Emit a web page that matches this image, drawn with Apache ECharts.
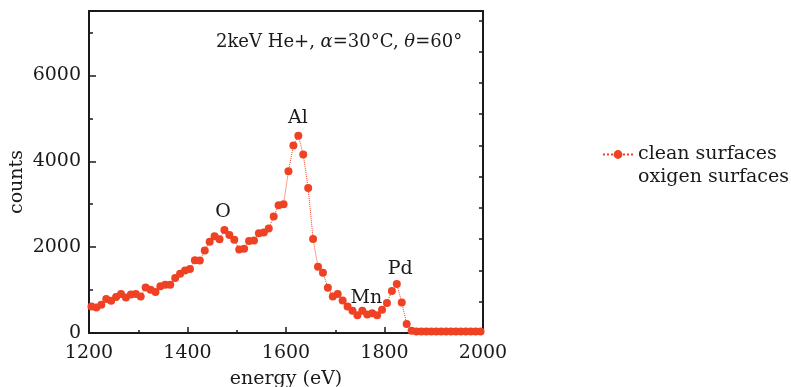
<!DOCTYPE html>
<html><head><meta charset="utf-8">
<script src="https://cdn.jsdelivr.net/npm/echarts@6/dist/echarts.min.js"></script>
<style>html,body{margin:0;padding:0;background:#fff}#c{width:791px;height:387px}</style>
</head><body><div id="c"></div>
<script>
const energies = [1205,1215,1225,1235,1245,1255,1265,1275,1285,1295,
  1305,1315,1325,1335,1345,1355,1365,1375,1385,1395,
  1405,1415,1425,1435,1445,1455,1465,1475,1485,1495,
  1505,1515,1525,1535,1545,1555,1565,1575,1585,1595,
  1605,1615,1625,1635,1645,1655,1665,1675,1685,1695,
  1705,1715,1725,1735,1745,1755,1765,1775,1785,1795,
  1805,1815,1825,1835,1845,1855,1865,1875,1885,1895,
  1905,1915,1925,1935,1945,1955,1965,1975,1985,1995];
const cleanCounts = [617,593,657,790,750,837,908,828,898,908,
  851,1062,1008,954,1086,1126,1126,1283,1380,1454,
  1493,1695,1688,1923,2127,2251,2181,2399,2282,2174,
  1946,1963,2141,2157,2321,2338,2432,2715,2975,3001,
  3768,4368,4596,4157,3376,2188,1545,1405,1055,851,
  908,757,617,516,415,516,430,462,415,539,
  696,980,1142,711,211,54,35,35,35,35,
  35,35,35,35,35,35,35,35,35,35];
const oxigenCounts = [];
const yTicks = [0,2000,4000,6000];
const peakLabels = ['Al','O','Mn','Pd'];
const peakEnergies = [1624,1472,1763,1832];
const peakCounts = [5010,2810,810,1490];

const FONT = 'DejaVu Serif';
const INK = '#1a1a1a';
const RED = '#ef4123';
const frameLine = {show:true, onZero:false, lineStyle:{color:INK, width:2}};
const tickStyle = {color:INK, width:1.5};

const chart = echarts.init(document.getElementById('c'));
chart.setOption({
  animation:false,
  grid:{left:89, right:308, top:11, bottom:54, containLabel:false, outerBoundsMode:'none'},
  title:{
    text:'2keV He+, {i|α}=30°C, {i|θ}=60°', left:216, top:33, padding:0,
    textStyle:{fontFamily:FONT, fontSize:18, fontWeight:'normal', color:INK,
      rich:{i:{fontFamily:FONT, fontStyle:'italic', fontSize:18, color:INK}}}
  },
  legend:{
    orient:'vertical', left:602, top:145, padding:0, itemGap:4,
    itemWidth:30, itemHeight:11,
    textStyle:{fontFamily:FONT, fontSize:19, color:INK},
    data:['clean surfaces','oxigen surfaces']
  },
  xAxis:[
    {type:'value', min:1200, max:2000, interval:200, position:'bottom',
     axisLine:frameLine,
     axisTick:{show:true, inside:true, length:6, lineStyle:tickStyle},
     minorTick:{show:true, splitNumber:2, length:3, lineStyle:tickStyle},
     splitLine:{show:false}, minorSplitLine:{show:false},
     axisLabel:{fontFamily:FONT, fontSize:19, color:INK, margin:11, formatter:v => String(v)},
     name:'energy (eV)', nameLocation:'middle', nameGap:37,
     nameTextStyle:{fontFamily:FONT, fontSize:19, color:INK}},
    {type:'value', min:1200, max:2000, position:'top',
     axisLine:frameLine, axisTick:{show:false}, axisLabel:{show:false}, splitLine:{show:false}}
  ],
  yAxis:[
    {type:'value', min:0, max:7500, interval:1000, position:'left',
     axisLine:frameLine,
     axisTick:{show:true, inside:true, length:4, lineStyle:tickStyle},
     splitLine:{show:false},
     axisLabel:{fontFamily:FONT, fontSize:19, color:INK, margin:8,
       formatter:v => yTicks.includes(v) ? String(v) : ''},
     name:'counts', nameLocation:'middle', nameGap:62,
     nameTextStyle:{fontFamily:FONT, fontSize:19, color:INK, padding:[0,20,0,0]}},
    {type:'value', min:0, max:7500, interval:2000, position:'left',
     axisLine:{show:false},
     axisTick:{show:true, inside:true, length:7, lineStyle:tickStyle},
     axisLabel:{show:false}, splitLine:{show:false}},
    {type:'value', min:0, max:10.3, interval:1, position:'right',
     axisLine:frameLine,
     axisTick:{show:true, inside:true, length:4, lineStyle:tickStyle},
     axisLabel:{show:false}, splitLine:{show:false}}
  ],
  series:[
    {name:'clean surfaces', type:'line',
     data:energies.map((e,i)=>[e, cleanCounts[i]]),
     symbol:'circle', symbolSize:8, showSymbol:true,
     itemStyle:{color:RED}, lineStyle:{color:RED, width:1, type:'dotted'},
     markPoint:{symbol:'rect', symbolSize:1, itemStyle:{color:'rgba(0,0,0,0)'},
       label:{show:true, position:'inside', formatter:'{b}', fontFamily:FONT, fontSize:19, color:INK},
       data:peakLabels.map((n,i)=>({name:n, coord:[peakEnergies[i], peakCounts[i]]}))}
    },
    {name:'oxigen surfaces', type:'line', data:oxigenCounts,
     symbol:'none', itemStyle:{color:'rgba(0,0,0,0)'}, lineStyle:{opacity:0}}
  ]
});
</script>
</body></html>
